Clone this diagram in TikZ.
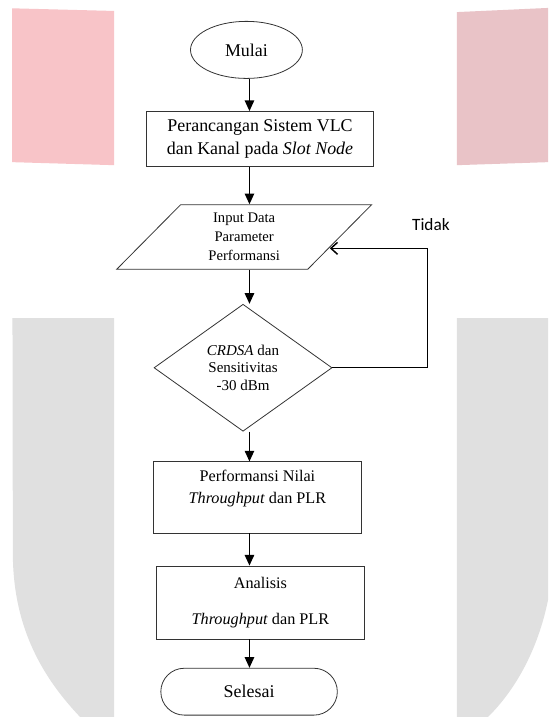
\documentclass[tikz,border=0pt]{standalone}
\usepackage{fontspec}
\setmainfont{Liberation Serif}
\newfontfamily\hurufsans{Carlito}
\usetikzlibrary{shapes.geometric,shapes.misc,arrows.meta}

\definecolor{merahmuda}{RGB}{248,196,200}
\definecolor{merahpudar}{RGB}{233,195,199}
\definecolor{abuwm}{RGB}{224,224,224}

\begin{document}
\begin{tikzpicture}[
  garis/.style={draw=black!80, line width=0.6pt},
  terminal/.style={garis, inner sep=0pt, font=\fontsize{13.5}{16}\selectfont},
  proses/.style={garis, rectangle, align=center, inner sep=0pt},
  masukan/.style={garis, trapezium, trapezium left angle=53,
                  trapezium right angle=127, trapezium stretches=true,
                  align=center, inner sep=0pt,
                  font=\fontsize{11}{14.3}\selectfont},
  keputusan/.style={garis, diamond, align=center, inner sep=0pt,
                    font=\fontsize{11.3}{13.1}\selectfont},
  panah/.style={line width=1.2pt, -{Triangle[length=8pt,width=7pt]}},
  balikan/.style={line width=1.1pt, -{Straight Barb[length=5pt,width=9pt]}}
]

\useasboundingbox[fill=white] (0,0) rectangle (14.50,-18.97);

%--------------------------------------------------------------
% Tanda air di latar belakang (sebagian tertutup halaman)
%--------------------------------------------------------------
\fill[merahmuda] (0.32,-0.22) -- (3.02,-0.29) -- (3.02,-4.37) -- (0.32,-4.29) -- cycle;
\fill[merahpudar] (12.09,-0.32) -- (14.50,-0.21) -- (14.50,-4.29) -- (12.09,-4.37) -- cycle;
\fill[abuwm] (0.33,-8.42) -- (3.02,-8.42) -- (3.02,-18.97) -- (2.12,-18.97)
  .. controls (1.19,-17.99) and (0.34,-16.67) .. (0.34,-14.63) -- cycle;
\fill[abuwm] (12.09,-8.42) -- (14.50,-8.42) -- (14.50,-15.87)
  .. controls (14.23,-17.20) and (13.63,-18.26) .. (12.91,-18.97)
  -- (12.09,-18.97) -- cycle;

%--------------------------------------------------------------
% Langkah-langkah diagram alir
%--------------------------------------------------------------
\node[terminal, ellipse, minimum width=2.96cm, minimum height=1.51cm]
  (mulai) at (6.52,-1.32) {Mulai};

\node[proses, minimum width=5.99cm, minimum height=1.46cm,
      font=\fontsize{13.5}{17.5}\selectfont] (rancang) at (6.88,-3.68)
  {Perancangan Sistem VLC\\ dan Kanal pada \textit{Slot Node}};

\node[masukan, minimum width=6.75cm, minimum height=1.71cm] (data) at (6.46,-6.27)
  {Input Data\\ Parameter\\ Performansi};

\node[keputusan, minimum width=4.71cm, minimum height=3.36cm] (cek) at (6.43,-9.73)
  {\textit{CRDSA} dan\\ Sensitivitas\\ -30 dBm};

\node[proses, minimum width=5.48cm, minimum height=1.88cm,
      font=\fontsize{12.2}{16.3}\selectfont] (nilai) at (6.81,-13.16)
  {Performansi Nilai\\ \textit{Throughput} dan PLR\\ \mbox{}};

\node[proses, minimum width=5.48cm, minimum height=1.93cm,
      font=\fontsize{12.2}{16.3}\selectfont] (analisis) at (6.89,-15.94)
  {Analisis\\[11pt] \textit{Throughput} dan PLR};

\node[terminal, rounded rectangle, minimum width=4.67cm, minimum height=1.24cm]
  (selesai) at (6.59,-18.30) {Selesai};

\node[font=\hurufsans\fontsize{13}{15}\selectfont] (tidak) at (11.40,-5.95) {Tidak};

%--------------------------------------------------------------
% Panah penghubung
%--------------------------------------------------------------
\coordinate (sumbu) at (6.60,0);
\coordinate (balik) at (11.31,-6.57);

\draw[panah] (mulai.south -| sumbu) -- (rancang.north -| sumbu);
\draw[panah] (rancang.south -| sumbu) -- (data.north -| sumbu);
\draw[panah] (data.south -| sumbu) -- (cek.north -| sumbu);
\draw[panah] (cek.south -| sumbu) -- (nilai.north -| sumbu);
\draw[panah] (nilai.south -| sumbu) -- (analisis.north -| sumbu);
\draw[panah] (analisis.south -| sumbu) -- (selesai.north -| sumbu);

% jalur kembali bila syarat tidak terpenuhi
\draw[balikan] (cek.east) -| (balik) -- (balik -| data.-7);

\end{tikzpicture}
\end{document}
